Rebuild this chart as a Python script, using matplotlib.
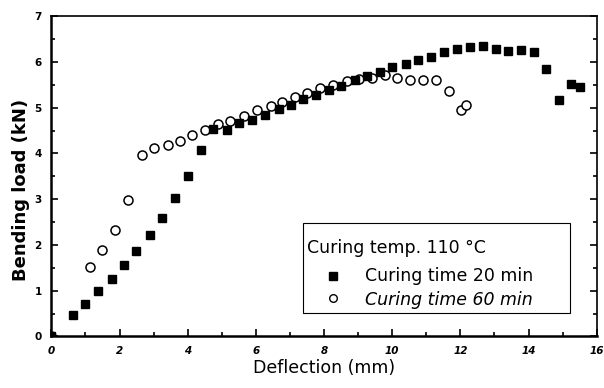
import matplotlib
matplotlib.use("Agg")
import matplotlib.pyplot as plt
from matplotlib.patches import Rectangle
from matplotlib.ticker import MultipleLocator

plt.rcParams["font.family"] = ["DejaVu Sans"]

# Curing time 20 min (filled squares)
defl_20 = [0.0, 0.64, 1.0, 1.37, 1.79, 2.13, 2.49, 2.89, 3.26, 3.62, 4.01, 4.38,
           4.75, 5.16, 5.51, 5.89, 6.28, 6.67, 7.04, 7.38, 7.75, 8.15, 8.51, 8.9,
           9.27, 9.63, 10.0, 10.39, 10.76, 11.15, 11.52, 11.9, 12.27, 12.66,
           13.03, 13.4, 13.77, 14.15, 14.5, 14.89, 15.25, 15.52]
load_20 = [0.0, 0.46, 0.71, 1.0, 1.25, 1.56, 1.87, 2.22, 2.59, 3.02, 3.5, 4.07,
           4.54, 4.52, 4.67, 4.74, 4.85, 4.97, 5.07, 5.19, 5.28, 5.39, 5.48, 5.6,
           5.69, 5.79, 5.89, 5.96, 6.04, 6.12, 6.21, 6.28, 6.33, 6.36,
           6.29, 6.25, 6.26, 6.21, 5.85, 5.18, 5.53, 5.45]

# Curing time 60 min (open circles)
defl_60 = [0.0, 1.13, 1.5, 1.88, 2.25, 2.66, 3.01, 3.41, 3.77, 4.13, 4.5, 4.89,
           5.25, 5.65, 6.03, 6.43, 6.78, 7.14, 7.5, 7.89, 8.26, 8.66, 9.03, 9.41,
           9.78, 10.14, 10.51, 10.9, 11.27, 11.66, 12.03, 12.16]
load_60 = [0.0, 1.51, 1.88, 2.33, 2.99, 3.97, 4.13, 4.19, 4.28, 4.41, 4.52, 4.64,
           4.72, 4.83, 4.96, 5.04, 5.12, 5.23, 5.32, 5.43, 5.5, 5.58, 5.63, 5.66,
           5.71, 5.65, 5.61, 5.61, 5.6, 5.37, 4.94, 5.05]

legend_title = "Curing temp. 110 \u00b0C"
series_labels = ["Curing time 20 min", "Curing time 60 min"]

fig = plt.figure(figsize=(6.04, 3.88), dpi=100)
ax = fig.add_axes([0.085, 0.133, 0.903, 0.825])

ax.plot(defl_60, load_60, linestyle="none", marker="o", markersize=6.5,
        markerfacecolor="white", markeredgecolor="black", markeredgewidth=1.1)
ax.plot(defl_20, load_20, linestyle="none", marker="s", markersize=6,
        color="black")

ax.set_xlim(0, 16)
ax.set_ylim(0, 7)
ax.xaxis.set_major_locator(MultipleLocator(2))
ax.xaxis.set_minor_locator(MultipleLocator(1))
ax.yaxis.set_major_locator(MultipleLocator(1))
ax.yaxis.set_minor_locator(MultipleLocator(0.5))
ax.tick_params(which="both", direction="in", right=True, width=1.2)
ax.tick_params(which="major", length=5, labelsize=7.5)
ax.tick_params(which="minor", length=3)
ax.tick_params(axis="x", pad=7)
ax.tick_params(axis="y", pad=7)
for lbl in ax.get_xticklabels():
    lbl.set_fontstyle("italic")
    lbl.set_fontweight("bold")
for lbl in ax.get_yticklabels():
    lbl.set_fontweight("bold")
for side in ["left", "bottom"]:
    ax.spines[side].set_linewidth(1.8)
for side in ["top", "right"]:
    ax.spines[side].set_linewidth(1.2)

ax.set_xlabel("Deflection (mm)", fontsize=12.5)
ax.xaxis.set_label_coords(0.5, -0.072)
ax.set_ylabel("Bending load (kN)", fontsize=13, fontweight="bold")
ax.yaxis.set_label_coords(-0.04, 0.458)

# legend box drawn by hand to get the loose spacing of the original
ax.add_patch(Rectangle((0.4615, 0.0734), 0.489, 0.281, transform=ax.transAxes,
                       facecolor="white", edgecolor="black", linewidth=0.8,
                       zorder=5))
ax.text(0.4689, 0.2609, legend_title, transform=ax.transAxes, fontsize=12.5,
        va="baseline", zorder=6)
ax.plot([0.5165], [0.189], transform=ax.transAxes, marker="s", markersize=6,
        color="black", linestyle="none", zorder=6, clip_on=False)
ax.plot([0.5165], [0.1203], transform=ax.transAxes, marker="o", markersize=5.5,
        markerfacecolor="white", markeredgecolor="black", linestyle="none",
        zorder=6, clip_on=False)
ax.text(0.575, 0.1734, series_labels[0], transform=ax.transAxes, fontsize=12.5,
        va="baseline", zorder=6)
ax.text(0.575, 0.0984, series_labels[1], transform=ax.transAxes, fontsize=12.5,
        va="baseline", style="italic", zorder=6)

fig.savefig("out.png", dpi=100)
